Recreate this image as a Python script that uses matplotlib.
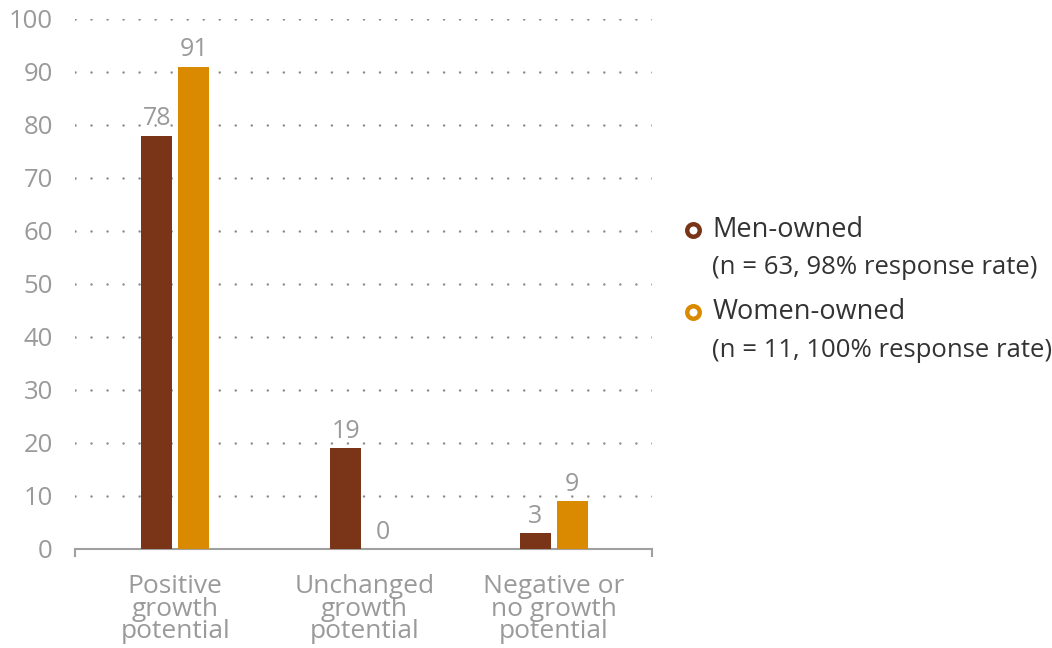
import numpy as np
import matplotlib.pyplot as plt

categories = ["Positive\ngrowth\npotential", "Unchanged\ngrowth\npotential", "Negative or\nno growth\npotential"]
men = [78, 19, 3]
women = [91, 0, 9]
legend_names = ["Men-owned", "Women-owned"]
legend_notes = ["(n = 63, 98% response rate)", "(n = 11, 100% response rate)"]

men_color = "#7a3519"
women_color = "#d98a00"
grey = "#9a9a9a"

plt.rcParams['font.family'] = ['Open Sans', 'DejaVu Sans']

fig = plt.figure(figsize=(10.52, 6.48), dpi=100)
ax = fig.add_axes([0.0713, 0.1528, 0.5485, 0.818])

x = np.arange(len(categories))
w = 0.164
off = 0.098
b1 = ax.bar(x - off, men, w, color=men_color, zorder=3)
b2 = ax.bar(x + off, women, w, color=women_color, zorder=3)

for bars, vals in ((b1, men), (b2, women)):
    for r, v in zip(bars, vals):
        ax.text(r.get_x() + r.get_width() / 2, v + 0.8, str(v), ha='center', va='bottom',
                fontsize=18, color=grey, zorder=4)

ax.set_xlim(-0.53, 2.52)
ax.set_ylim(0, 100)
ax.set_yticks(range(0, 101, 10))
for yv in range(10, 101, 10):
    ax.axhline(yv, color='#8a8a8a', linestyle=(0, (0.01, 6.4)), linewidth=1.8,
               dash_capstyle='round', zorder=1)

for s in ['top', 'right', 'left']:
    ax.spines[s].set_visible(False)
ax.spines['bottom'].set_color('#a0a0a0')
ax.spines['bottom'].set_linewidth(1.5)

ax.tick_params(axis='y', length=0, pad=16, labelsize=18.5, labelcolor=grey)
ax.tick_params(axis='x', length=0, pad=18)
ax.set_xticks(x)
ax.set_xticklabels(categories, fontsize=19, color=grey, linespacing=0.88)

# small end ticks on the baseline
for xe in ax.get_xlim():
    ax.plot([xe, xe], [0, -1.3], color='#a0a0a0', linewidth=1.5, clip_on=False)

# legend
ys = [0.645, 0.518]
for yy, col, name, note in zip(ys, [men_color, women_color], legend_names, legend_notes):
    fig.lines.append(plt.Line2D([0.659], [yy], marker='o', markersize=9, markerfacecolor='white',
                                markeredgecolor=col, markeredgewidth=3.2, transform=fig.transFigure))
    fig.text(0.677, yy, name, fontsize=19.5, color='#333333', va='center')
    fig.text(0.677, yy - 0.0585, note, fontsize=18.5, color='#333333', va='center')

fig.savefig('out.png', dpi=100)
